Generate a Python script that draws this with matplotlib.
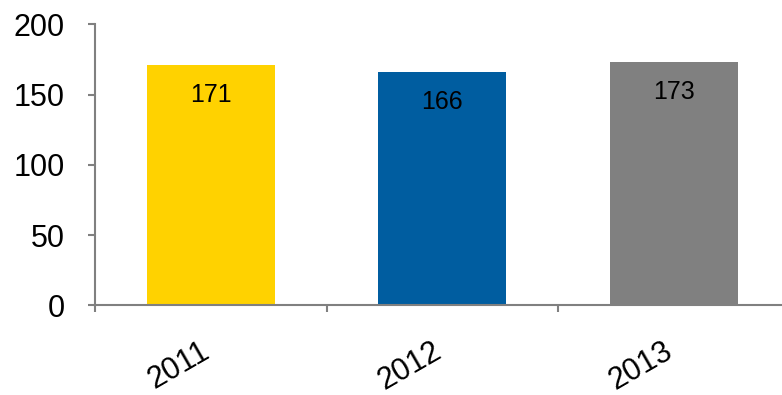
import numpy as np
import matplotlib.pyplot as plt

years = ["2011", "2012", "2013"]
values = [171, 166, 173]
colors = ["#FFD200", "#005DA0", "#808080"]

plt.rcParams['font.family'] = ['Liberation Sans', 'DejaVu Sans']

fig = plt.figure(figsize=(7.82, 3.95), dpi=100)
ax = fig.add_axes([0.1215, 0.2266, 0.8881, 0.7114])

x = np.arange(len(years))
bars = ax.bar(x, values, width=0.553, color=colors)

for xi, v in zip(x, values):
    ax.text(xi, v - 21, str(v), ha='center', va='center', fontsize=18, color='black')

ax.set_xlim(-0.5, 2.5)
ax.set_ylim(0, 200)
ax.set_yticks([0, 50, 100, 150, 200])
ax.set_xticks([-0.5, 0.5, 1.5], minor=False)
ax.set_xticklabels([])
ax.set_xticks(x + 0.02, minor=True)
ax.set_xticklabels(years, minor=True, rotation=30, ha='right', fontsize=22)

for s in ['top', 'right']:
    ax.spines[s].set_visible(False)
for s in ['left', 'bottom']:
    ax.spines[s].set_color('#808080')
    ax.spines[s].set_linewidth(1.5)

ax.tick_params(axis='y', labelsize=22, length=5, width=1.5, color='#808080', pad=17)
ax.tick_params(axis='x', which='major', length=5, width=1.5, color='#808080')
ax.tick_params(axis='x', which='minor', length=0, pad=22)

plt.savefig("out.png", dpi=100)
